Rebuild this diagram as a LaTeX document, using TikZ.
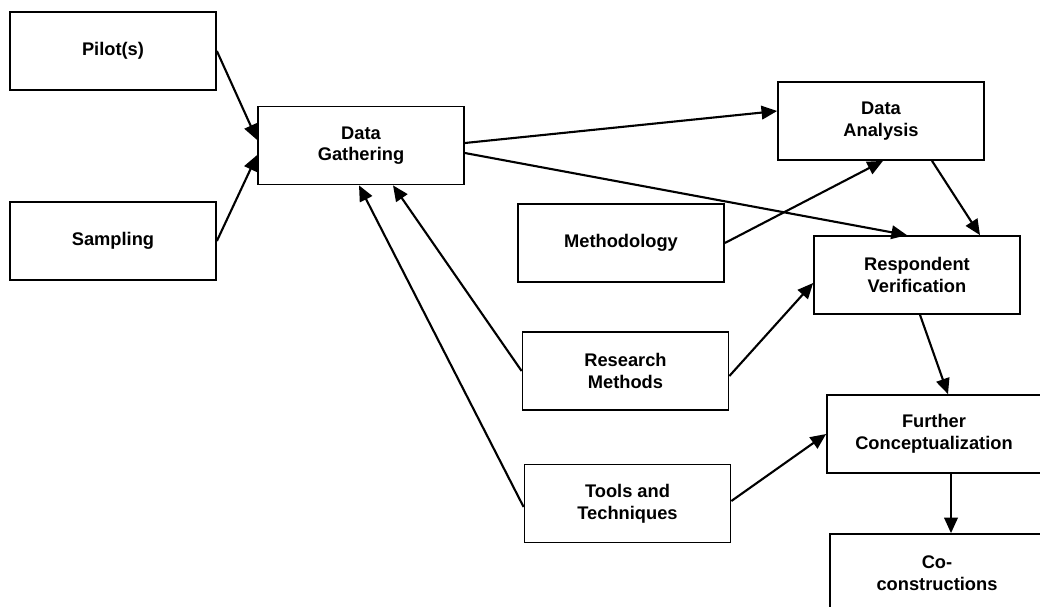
\documentclass[tikz,border=0pt]{standalone}
\usepackage{fontspec}
\setmainfont{Liberation Sans}
\usepackage{tikz}
\usetikzlibrary{calc,arrows.meta}

\begin{document}
\begin{tikzpicture}[x=0.025cm, y=-0.025cm,
		box/.style={draw, line width=1.2pt, minimum width=5.15cm, minimum height=1.95cm, inner sep=0pt, align=center, font=\fontsize{13}{15.4}\selectfont\bfseries},
		widebox/.style={box, minimum width=5.35cm},
		arr/.style={line width=1.5pt, -{Triangle[length=0.39cm, width=0.34cm]}}]
		%%%%% START %%%%%
		
		\clip (0, 0) rectangle (1040, 606);
		
		\node[box] (pilot) at (113, 51) {Pilot(s)};
		\node[box] (sampling) at (113, 241) {Sampling};
		\node[box] (gathering) at (361, 145.5) {Data\\Gathering};
		
		\node[box] (analysis) at (881, 121) {Data\\Analysis};
		\node[box] (method) at (621, 243) {Methodology};
		\node[box] (verify) at (917, 275) {Respondent\\Verification};
		\node[box] (research) at (625.5, 371) {Research\\Methods};
		\node[box] (tools) at (627.5, 503.5) {Tools and\\Techniques};
		\node[widebox] (further) at (934, 434) {Further\\Conceptualization};
		\node[widebox] (cocon) at (937, 573) {Co-\\constructions};
		
		\draw[arr] (pilot.east) -- ($(gathering.west)+(0, -5.5)$);
		\draw[arr] (sampling.east) -- ($(gathering.west)+(0, 9.5)$);
		
		\draw[arr] ($(gathering.east)+(0, -2.5)$) -- ($(analysis.west)+(0, -10)$);
		\draw[arr] ($(gathering.east)+(0, 7.5)$) -- ($(verify.north)+(-10, 0)$);
		\draw[arr] (method.east) -- ($(analysis.south)+(2, 0)$);
		\draw[arr] ($(analysis.south)+(51, 0)$) -- ($(verify.north)+(63, 0)$);
		
		\draw[arr] (research.west) -- ($(gathering.south)+(32, 0)$);
		\draw[arr] ($(tools.west)+(0, 3.5)$) -- ($(gathering.south)+(-2, 0)$);
		\draw[arr] ($(research.east)+(0, 5)$) -- ($(verify.west)+(0, 8)$);
		\draw[arr] ($(tools.east)+(0, -2.5)$) -- (further.west);
		
		\draw[arr] ($(verify.south)+(3, 0)$) -- ($(further.north)+(14, 0)$);
		\draw[arr] ($(further.south)+(17, 0)$) -- ($(cocon.north)+(14, 0)$);
		
		%%%%% END %%%%%
	\end{tikzpicture}
\end{document}
